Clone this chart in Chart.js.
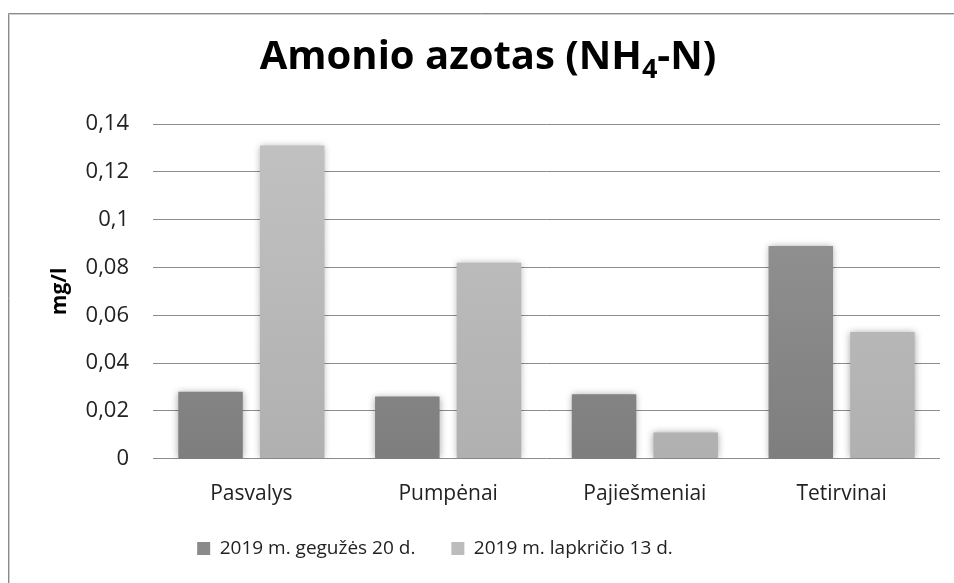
<!DOCTYPE html>
<html>
<head>
<meta charset="utf-8">
<title>Amonio azotas</title>
<script src="https://cdn.jsdelivr.net/npm/chart.js@4"></script>
<style>
  html, body { margin: 0; padding: 0; background: #fff; }
  #wrap { width: 954px; height: 583px; }
</style>
</head>
<body>
<div id="wrap"><canvas id="myChart" width="954" height="583"></canvas></div>
<script>
// Vietos ir matavimų reikšmės (mg/l)
const vietos = ['Pasvalys', 'Pumpėnai', 'Pajiešmeniai', 'Tetirvinai'];
const gegužė = [0.028, 0.026, 0.027, 0.089];
const lapkritis = [0.131, 0.082, 0.011, 0.053];
const serijos = ['2019 m. gegužės 20 d.', '2019 m. lapkričio 13 d.'];
const yMin = 0, yMax = 0.14, yStep = 0.02;

const FONT = '"Open Sans", "Liberation Sans", sans-serif';

// stulpelio spalvos gradientas (tamsesnis apačioje)
function gradientas(context, virsus, apacia) {
    const area = context.chart.chartArea;
    if (!area) return virsus;
    const g = context.chart.ctx.createLinearGradient(0, area.top, 0, area.bottom);
    g.addColorStop(0, virsus);
    g.addColorStop(1, apacia);
    return g;
}

// rėmelis, pavadinimas su apatiniu indeksu ir šešėliai stulpeliams
const piesimas = {
    id: 'piesimas',
    afterLayout(chart) {
        // legenda šiek tiek kairiau ir aukščiau
        const lg = chart.legend;
        lg.left = 0;
        lg.right = 870;
        lg.top -= 27;
        lg.bottom -= 27;
    },
    beforeDraw(chart) {
        const ctx = chart.ctx;
        ctx.save();
        ctx.fillStyle = '#fff';
        ctx.fillRect(0, 0, chart.width, chart.height);
        ctx.strokeStyle = '#8a8a8a';
        ctx.lineWidth = 1;
        ctx.beginPath();
        ctx.moveTo(8.5, chart.height);
        ctx.lineTo(8.5, 13.5);
        ctx.lineTo(chart.width, 13.5);
        ctx.stroke();
        ctx.strokeStyle = '#d0d0d0';
        ctx.beginPath();
        ctx.moveTo(9.5, chart.height);
        ctx.lineTo(9.5, 14.5);
        ctx.lineTo(chart.width, 14.5);
        ctx.stroke();
        ctx.restore();
    },
    afterDraw(chart) {
        const ctx = chart.ctx;
        ctx.save();
        ctx.fillStyle = '#000';
        ctx.textBaseline = 'alphabetic';
        const didelis = 'bold 40px ' + FONT;
        const mazas = 'bold 27px ' + FONT;
        const dalys = [['Amonio azotas (NH', didelis, 0], ['4', mazas, 9], ['-N)', didelis, 0]];
        let plotis = 0;
        dalys.forEach(d => { ctx.font = d[1]; plotis += ctx.measureText(d[0]).width; });
        let x = 488 - plotis / 2;
        dalys.forEach(d => {
            ctx.font = d[1];
            ctx.fillText(d[0], x, 69 + d[2]);
            x += ctx.measureText(d[0]).width;
        });
        ctx.restore();
    },
    beforeDatasetsDraw(chart) {
        const ctx = chart.ctx;
        ctx.save();
        ctx.shadowColor = 'rgba(0,0,0,0.35)';
        ctx.shadowBlur = 7;
        ctx.shadowOffsetX = 0;
        ctx.shadowOffsetY = 0;
    },
    afterDatasetsDraw(chart) {
        chart.ctx.restore();
    }
};

var ctx = document.getElementById('myChart').getContext('2d');
var myChart = new Chart(ctx, {
    type: 'bar',
    data: {
        labels: vietos,
        datasets: [
            {
                label: serijos[0],
                data: gegužė,
                backgroundColor: c => gradientas(c, '#999999', '#7e7e7e'),
                categoryPercentage: 0.83,
                barPercentage: 0.79,
            },
            {
                label: serijos[1],
                data: lapkritis,
                backgroundColor: c => gradientas(c, '#c2c2c2', '#b0b0b0'),
                categoryPercentage: 0.83,
                barPercentage: 0.79,
            },
        ]
    },
    plugins: [piesimas],
    options: {
        responsive: false,
        animation: false,
        devicePixelRatio: 1,
        layout: {
            padding: { top: 124, right: 14, left: 0, bottom: -12 }
        },
        plugins: {
            title: { display: false },
            tooltip: { enabled: false },
            legend: {
                position: 'bottom',
                labels: {
                    font: { family: FONT, size: 19 },
                    color: '#222',
                    boxWidth: 13,
                    boxHeight: 13,
                    padding: 36,
                    generateLabels(chart) {
                        const spalvos = ['#8a8a8a', '#bcbcbc'];
                        return chart.data.datasets.map((ds, i) => ({
                            text: ds.label,
                            fillStyle: spalvos[i],
                            strokeStyle: spalvos[i],
                            lineWidth: 0,
                            datasetIndex: i,
                            fontColor: '#222'
                        }));
                    }
                }
            }
        },
        scales: {
            x: {
                grid: { display: false, drawTicks: false },
                border: { display: false },
                ticks: {
                    font: { family: FONT, size: 21 },
                    color: '#222',
                    padding: 23,
                    maxRotation: 0,
                }
            },
            y: {
                min: yMin,
                max: yMax,
                afterFit(scale) { scale.width = 153; },
                grid: { color: '#8c8c8c', lineWidth: 1, drawTicks: false },
                border: { display: false },
                ticks: {
                    stepSize: yStep,
                    padding: 24,
                    font: { family: FONT, size: 22 },
                    color: '#222',
                    callback: v => String(+v.toFixed(2)).replace('.', ',')
                },
                title: {
                    display: true,
                    text: 'mg/l',
                    font: { family: FONT, size: 21, weight: 'bold' },
                    color: '#000',
                    padding: { top: 47 }
                }
            }
        }
    }
});
</script>
</body>
</html>
